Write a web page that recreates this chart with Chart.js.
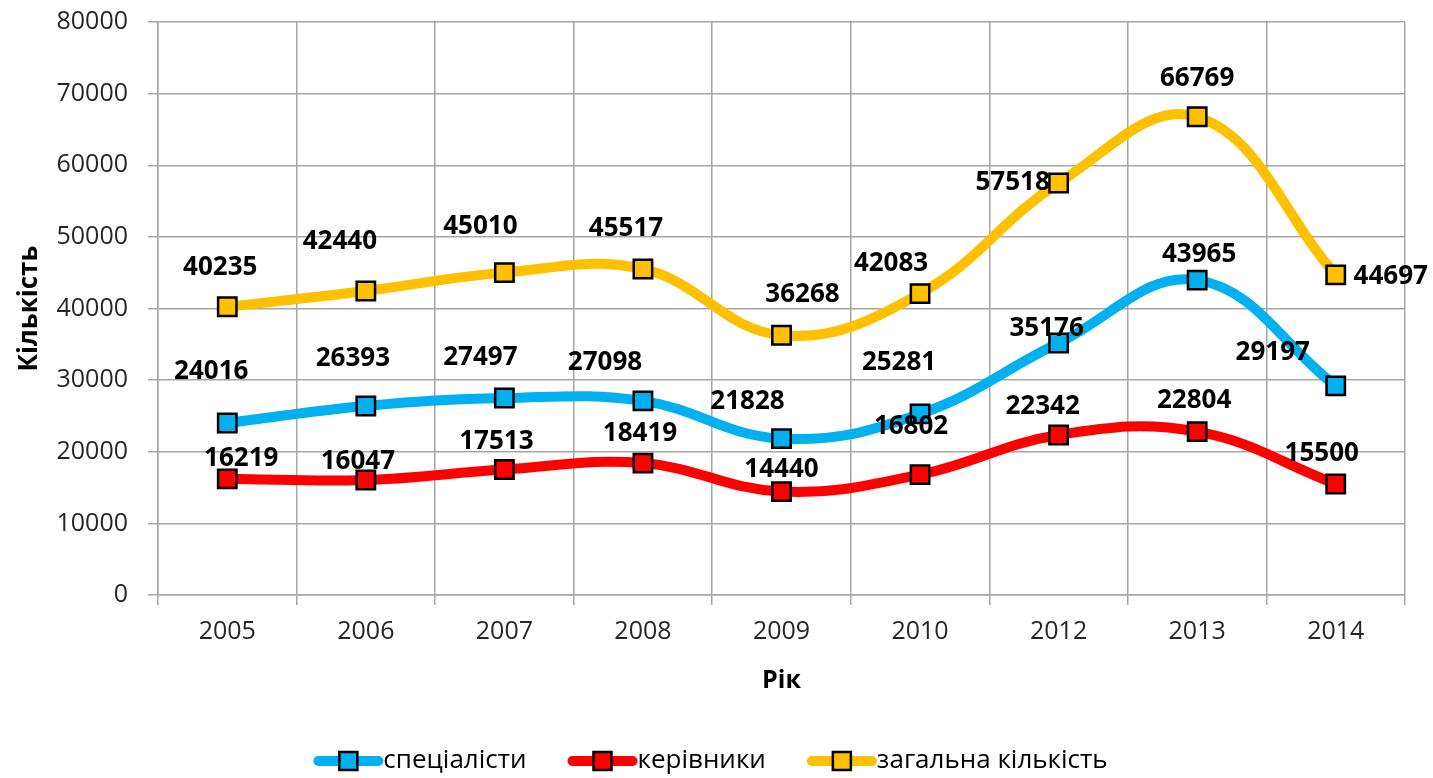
<!DOCTYPE html>
<html>
<head>
<meta charset="utf-8">
<script src="https://cdn.jsdelivr.net/npm/chart.js@4/dist/chart.umd.min.js"></script>
<style>
  html, body { margin: 0; padding: 0; background: #fff; }
  #wrap { width: 1433px; height: 778px; }
</style>
</head>
<body>
<div id="wrap"><canvas id="myChart" width="1433" height="778"></canvas></div>
<script>
var years = ['2005', '2006', '2007', '2008', '2009', '2010', '2012', '2013', '2014'];
var specialists = [24016, 26393, 27497, 27098, 21828, 25281, 35176, 43965, 29197];
var managers = [16219, 16047, 17513, 18419, 14440, 16802, 22342, 22804, 15500];
var total = [40235, 42440, 45010, 45517, 36268, 42083, 57518, 66769, 44697];
var seriesNames = ['спеціалісти', 'керівники', 'загальна кількість'];

// where each value label sits relative to its point (px)
var labelShift = [
    [[-16,-51],[-13,-47],[-24,-40],[-38,-38],[-34,-37],[-21,-51],[-12,-14],[2,-26],[-63,-33]],
    [[14,-20],[-8,-18],[-8,-28],[-3,-29],[0,-22],[-9,-48],[-16,-28],[-3,-31],[-14,-30]],
    [[-7,-39],[-26,-49],[-24,-46],[-17,-40],[21,-41],[-29,-30],[-46,0],[0,-38],[55,2]]
];

const FONT = '"Open Sans", "DejaVu Sans", sans-serif';

const valueLabels = {
    id: 'valueLabels',
    afterDatasetsDraw(chart) {
        const ctx = chart.ctx;
        ctx.save();
        ctx.font = 'bold 26px ' + FONT;
        ctx.fillStyle = '#000';
        ctx.textAlign = 'center';
        ctx.textBaseline = 'middle';
        chart.data.datasets.forEach(function (ds, i) {
            chart.getDatasetMeta(i).data.forEach(function (pt, j) {
                var s = labelShift[i][j];
                ctx.fillText(String(ds.data[j]), pt.x + s[0], pt.y + s[1]);
            });
        });
        ctx.restore();
    }
};

const lineLegend = {
    id: 'lineLegend',
    afterDraw(chart) {
        const ctx = chart.ctx;
        ctx.save();
        ctx.font = '26px ' + FONT;
        ctx.textBaseline = 'middle';
        var lineLen = 70, gap = 41, y = 761;
        var widths = chart.data.datasets.map(function (ds) { return lineLen + ctx.measureText(ds.label).width; });
        var totalW = widths.reduce(function (a, b) { return a + b; }, 0) + gap * (widths.length - 1);
        var x = (chart.width - totalW) / 2 - 6;
        chart.data.datasets.forEach(function (ds, i) {
            ctx.strokeStyle = ds.borderColor;
            ctx.lineWidth = 10;
            ctx.lineCap = 'round';
            ctx.beginPath();
            ctx.moveTo(x + 5, y);
            ctx.lineTo(x + lineLen - 5, y);
            ctx.stroke();
            ctx.fillStyle = ds.borderColor;
            ctx.fillRect(x + 26, y - 9, 18, 18);
            ctx.lineWidth = 2.5;
            ctx.strokeStyle = '#000';
            ctx.strokeRect(x + 26, y - 9, 18, 18);
            ctx.fillStyle = '#000';
            ctx.fillText(ds.label, x + lineLen, y);
            x += widths[i] + gap;
        });
        ctx.restore();
    }
};

function makeSet(label, data, color) {
    return {
        label: label,
        data: data,
        borderColor: color,
        backgroundColor: color,
        borderWidth: 10,
        borderCapStyle: 'round',
        tension: 0.4,
        pointStyle: 'rect',
        pointRadius: 13,
        pointHoverRadius: 13,
        pointBackgroundColor: color,
        pointBorderColor: '#000',
        pointBorderWidth: 2.5
    };
}

const ctx = document.getElementById('myChart').getContext('2d');
const myChart = new Chart(ctx, {
    type: 'line',
    data: {
        labels: years,
        datasets: [
            makeSet(seriesNames[0], specialists, '#00B0F0'),
            makeSet(seriesNames[1], managers, '#FF0000'),
            makeSet(seriesNames[2], total, '#FFC000')
        ]
    },
    options: {
        responsive: false,
        animation: false,
        layout: { padding: { top: 22, right: 28, bottom: 78, left: 0 } },
        plugins: {
            legend: { display: false },
            tooltip: { enabled: false }
        },
        scales: {
            x: {
                offset: true,
                grid: { offset: true, color: '#A6A6A6', lineWidth: 1.5, tickLength: 10, tickColor: '#A6A6A6' },
                border: { color: '#A6A6A6', width: 1.5 },
                ticks: { color: '#262626', font: { family: FONT, size: 25 }, padding: 12, maxRotation: 0 },
                title: { display: true, text: 'Рік', color: '#000', font: { family: FONT, size: 25, weight: 'bold' }, padding: { top: 8 } },
                afterFit: function (scale) { scale.height = 105; scale.paddingLeft = 0; scale.paddingRight = 0; }
            },
            y: {
                min: 0,
                max: 80000,
                ticks: {
                    stepSize: 10000, color: '#262626', font: { family: FONT, size: 25 }, padding: 20,
                    callback: function (v) { return String(v); }
                },
                grid: { color: '#A6A6A6', lineWidth: 1.5, tickLength: 10, tickColor: '#A6A6A6' },
                border: { color: '#A6A6A6', width: 1.5 },
                title: { display: true, text: 'Кількість', color: '#000', font: { family: FONT, size: 26, weight: 'bold' }, padding: { top: 14, bottom: 0 } },
                afterFit: function (scale) { scale.width = 158; scale.paddingTop = 0; scale.paddingBottom = 0; }
            }
        }
    },
    plugins: [valueLabels, lineLegend]
});
</script>
</body>
</html>
